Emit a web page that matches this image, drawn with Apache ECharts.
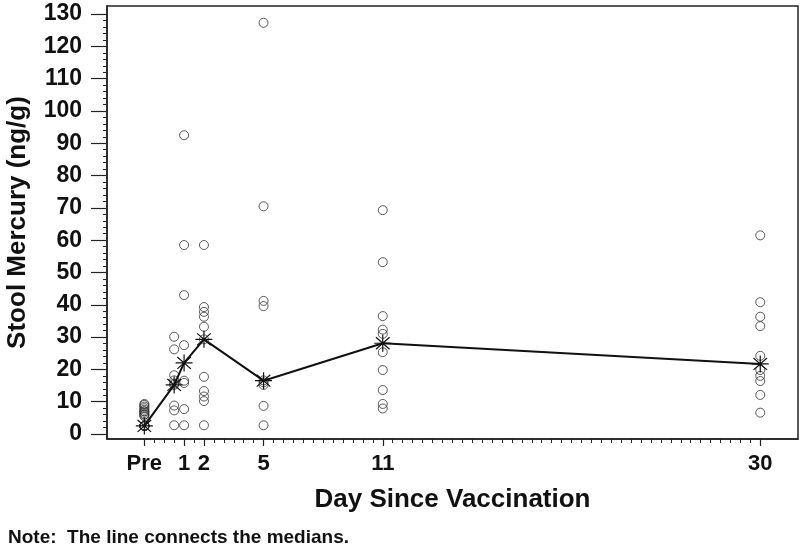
<!DOCTYPE html>
<html>
<head>
<meta charset="utf-8">
<script src="https://cdn.jsdelivr.net/npm/echarts@6/dist/echarts.min.js"></script>
<style>
html,body{margin:0;padding:0;background:#fff;}
#chart{width:800px;height:550px;}
</style>
</head>
<body>
<div id="chart"></div>
<script>
// ---- data ----
const dayPositions = [-1, 0.5, 1, 2, 5, 11, 30];
const xTickValues = [-1, 1, 2, 5, 11, 30];
const xTickLabels = ['Pre', '1', '2', '5', '11', '30'];
const yTickValues = [0, 10, 20, 30, 40, 50, 60, 70, 80, 90, 100, 110, 120, 130];

const preValues   = [2.5, 2.5, 2.5, 2.5, 2.5, 2.5, 2.5, 2.5, 2.5, 2.5, 2.5, 2.5, 5.5, 6, 6, 6.5, 7, 7, 7.5, 8, 8.5, 9, 9.3];
const day05Values = [30.1, 26.2, 18.2, 16.6, 15.6, 15.2, 8.8, 7.3, 2.7];
const day1Values  = [92.5, 58.5, 43, 27.5, 16.5, 15.8, 7.7, 2.7];
const day2Values  = [58.5, 39.3, 37.8, 36.3, 33.2, 29.3, 17.7, 13.3, 11.6, 10.2, 2.7];
const day5Values  = [127.3, 70.5, 41.2, 39.6, 16.6, 16, 15.2, 8.7, 2.7];
const day11Values = [69.3, 53.2, 36.5, 32.3, 31, 25.3, 19.8, 13.6, 9.3, 7.9];
const day30Values = [61.5, 40.8, 36.3, 33.4, 24.2, 19.8, 18, 16.4, 12.1, 6.6];
const medians     = [2.5, 15.2, 22, 29.3, 16.5, 28.1, 21.7];

const groups = [preValues, day05Values, day1Values, day2Values, day5Values, day11Values, day30Values];

// ---- build ----
const scatterData = [];
groups.forEach((vals, i) => vals.forEach(v => scatterData.push([dayPositions[i], v])));
const medianData = dayPositions.map((d, i) => [d, medians[i]]);

const xMinorTicks = [];
for (let d = -1; d <= 30; d += 0.5) xMinorTicks.push(d);
const yMinorTicks = [];
for (let v = 0; v <= 130; v += 2) yMinorTicks.push(v);

const FONT = '"Liberation Sans", Arial, sans-serif';
const starPath = 'path://M0,10L20,10M2,3L18,17M2,17L18,3M10,0L10,20';

const chart = echarts.init(document.getElementById('chart'), null, {renderer: 'canvas'});
chart.setOption({
  animation: false,
  backgroundColor: '#fff',
  grid: {left: 107, right: 2, top: 6, bottom: 111, containLabel: false, outerBoundsMode: 'none',
    show: true, borderColor: '#222', borderWidth: 1.5, backgroundColor: 'transparent'},
  xAxis: [{
    type: 'value', min: -2.88, max: 31.9,
    name: 'Day Since Vaccination', nameLocation: 'middle', nameGap: 48,
    nameTextStyle: {fontFamily: FONT, fontWeight: 'bold', fontSize: 26, color: '#111'},
    axisLine: {show: true, onZero: false, lineStyle: {color: '#222', width: 1.5}},
    axisTick: {show: true, length: 7, customValues: xTickValues, lineStyle: {color: '#222', width: 1.2}},
    axisLabel: {show: true, customValues: xTickValues, margin: 14,
      formatter: v => xTickLabels[xTickValues.indexOf(v)],
      fontFamily: FONT, fontWeight: 'bold', fontSize: 22, color: '#111'},
    splitLine: {show: false}
  }, {
    type: 'value', min: -2.88, max: 31.9, position: 'bottom',
    axisLine: {show: false, onZero: false},
    axisTick: {show: true, length: 4, customValues: xMinorTicks, lineStyle: {color: '#222', width: 1}},
    axisLabel: {show: false},
    splitLine: {show: false}
  }],
  yAxis: [{
    type: 'value', min: -1.55, max: 132.5, position: 'left',
    name: 'Stool Mercury (ng/g)', nameLocation: 'middle', nameGap: 76,
    nameTextStyle: {fontFamily: FONT, fontWeight: 'bold', fontSize: 26, color: '#111'},
    axisLine: {show: true, onZero: false, lineStyle: {color: '#222', width: 1.5}},
    axisTick: {show: true, length: 16, customValues: yTickValues, lineStyle: {color: '#222', width: 1.2}},
    axisLabel: {show: true, customValues: yTickValues, margin: 25,
      fontFamily: FONT, fontWeight: 'bold', fontSize: 23, color: '#111'},
    splitLine: {show: false}
  }, {
    type: 'value', min: -1.55, max: 132.5, position: 'left',
    axisLine: {show: false, onZero: false},
    axisTick: {show: true, length: 4, customValues: yMinorTicks, lineStyle: {color: '#222', width: 1}},
    axisLabel: {show: false},
    splitLine: {show: false}
  }],
  graphic: [{
    type: 'text', left: 8, top: 528,
    style: {text: 'Note:  The line connects the medians.', fontFamily: FONT, fontWeight: 'bold', fontSize: 19, fill: '#111'}
  }],
  series: [{
    type: 'scatter', xAxisIndex: 0, yAxisIndex: 0,
    data: scatterData, symbol: 'circle', symbolSize: 9,
    itemStyle: {color: 'rgba(255,255,255,0)', borderColor: '#333', borderWidth: 1},
    z: 2
  }, {
    type: 'line', xAxisIndex: 0, yAxisIndex: 0,
    data: medianData, symbol: starPath, symbolSize: 17, showAllSymbol: true,
    lineStyle: {color: '#111', width: 2},
    itemStyle: {color: 'rgba(0,0,0,0)', borderColor: '#111', borderWidth: 1.2},
    z: 3
  }]
});
</script>
</body>
</html>
